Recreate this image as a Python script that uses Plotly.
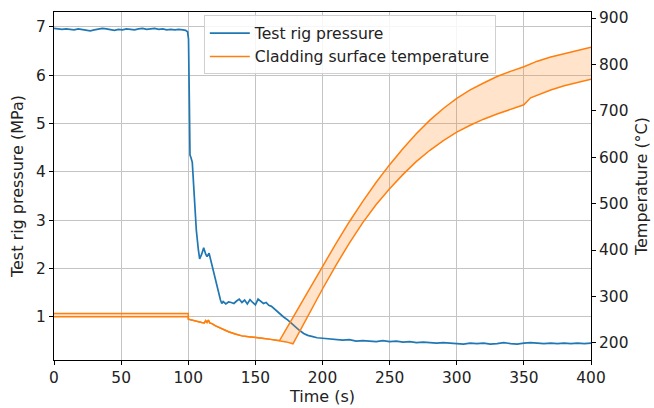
import plotly.graph_objects as go

# Test rig pressure (MPa) versus time (s)
time_p = [0, 3, 6, 9, 12, 15, 18, 21, 24, 27, 30, 33, 36, 39, 42, 45, 48, 51, 54, 57,
          60, 63, 66, 69, 72, 75, 78, 81, 84, 87, 90, 93, 96, 98, 99.5, 100.2, 100.8,
          101.3, 102, 103, 104.5, 106, 107.5, 108.5, 110, 111.5, 113, 114, 115.5, 117,
          118.5, 120, 122, 124, 125, 126, 128, 130, 132, 134, 136, 138, 140, 142, 144,
          146, 148, 150, 152, 154, 156, 158, 160, 162, 165, 168, 171, 174, 177, 180,
          183, 186, 189, 192, 196, 200, 205, 210, 215, 220, 225, 230, 235, 240, 245,
          250, 255, 260, 265, 270, 275, 280, 285, 290, 295, 300, 305, 310, 315, 320,
          325, 330, 335, 340, 345, 350, 355, 360, 365, 370, 375, 380, 385, 390, 395, 400]
pressure = [6.97, 6.96, 6.95, 6.96, 6.95, 6.94, 6.96, 6.95, 6.93, 6.92, 6.94, 6.96, 6.97,
            6.96, 6.94, 6.93, 6.95, 6.94, 6.96, 6.95, 6.94, 6.96, 6.97, 6.95, 6.96, 6.97,
            6.95, 6.96, 6.94, 6.95, 6.94, 6.95, 6.94, 6.93, 6.90, 6.75, 5.50, 4.35, 4.30,
            4.20, 3.50, 2.80, 2.40, 2.20, 2.30, 2.43, 2.30, 2.25, 2.32, 2.15, 1.95, 1.80,
            1.60, 1.35, 1.28, 1.32, 1.27, 1.31, 1.30, 1.28, 1.33, 1.37, 1.30, 1.35, 1.27,
            1.36, 1.30, 1.25, 1.37, 1.33, 1.28, 1.30, 1.24, 1.22, 1.14, 1.08, 1.00, 0.94,
            0.86, 0.79, 0.72, 0.66, 0.62, 0.60, 0.57, 0.56, 0.55, 0.54, 0.52, 0.53, 0.50,
            0.51, 0.50, 0.49, 0.51, 0.49, 0.50, 0.48, 0.49, 0.47, 0.48, 0.47, 0.46, 0.47,
            0.46, 0.45, 0.44, 0.46, 0.45, 0.46, 0.44, 0.45, 0.47, 0.45, 0.44, 0.46, 0.47,
            0.46, 0.45, 0.46, 0.45, 0.46, 0.45, 0.46, 0.45, 0.46]

# Cladding surface temperature (°C): upper and lower bound of the measured band
time_upper = [0, 100, 100.1, 105, 110, 112, 113, 114, 115, 116, 118, 120, 125, 130, 135,
              140, 145, 150, 155, 160, 165, 168, 175, 183, 190, 200, 210, 220, 230, 240,
              250, 260, 270, 280, 290, 300, 310, 320, 330, 340, 350, 360, 370, 380, 390, 400]
temp_upper = [263, 263, 251, 247, 244, 243, 248, 244, 249, 243, 241, 237, 230, 224, 219,
              215, 213, 212, 210, 208, 206, 205, 240, 280, 314, 364, 414, 461, 505, 546,
              584, 619, 651, 680, 705, 727, 745, 760, 774, 785, 795, 807, 816, 823, 830, 837]

time_lower = [0, 100, 100.1, 105, 110, 112, 113, 114, 115, 116, 118, 120, 125, 130, 135,
              140, 145, 150, 155, 160, 165, 168, 173, 178, 185, 190, 200, 210, 220, 230,
              240, 250, 260, 270, 280, 290, 300, 310, 320, 330, 340, 348, 350, 355, 360,
              370, 380, 390, 400]
temp_lower = [256, 256, 251, 247, 244, 243, 248, 244, 249, 243, 241, 237, 230, 224, 219,
              215, 213, 212, 210, 208, 206, 205, 202, 198, 236, 263, 316, 367, 415, 459,
              498, 532, 563, 591, 615, 636, 654, 669, 682, 693, 703, 711, 713, 728, 734,
              745, 754, 761, 768]

x_ticks = [0, 50, 100, 150, 200, 250, 300, 350, 400]
p_ticks = [1, 2, 3, 4, 5, 6, 7]
t_ticks = [200, 300, 400, 500, 600, 700, 800, 900]

BLUE = "#1f77b4"
ORANGE = "#ff7f0e"
FONT = "DejaVu Sans"
TICK_SIZE = 15.4
TITLE_SIZE = 16

fig = go.Figure()
fig.add_trace(go.Scatter(x=time_p, y=pressure, mode="lines", name="Test rig pressure",
                         line=dict(color=BLUE, width=1.7), yaxis="y"))
fig.add_trace(go.Scatter(x=time_upper, y=temp_upper, mode="lines",
                         name="Cladding surface temperature",
                         line=dict(color=ORANGE, width=1.5), yaxis="y2"))
fig.add_trace(go.Scatter(x=time_lower, y=temp_lower, mode="lines", showlegend=False,
                         line=dict(color=ORANGE, width=1.5), fill="tonexty",
                         fillcolor="rgba(255,127,14,0.22)", yaxis="y2"))

axis_common = dict(showline=True, linecolor="black", linewidth=1, ticks="outside",
                   ticklen=4, tickcolor="black", automargin=False,
                   tickfont=dict(size=TICK_SIZE, color="#222"), zeroline=False)

fig.update_layout(
    width=654, height=408,
    margin=dict(l=54, r=63, t=12, b=48),
    paper_bgcolor="white", plot_bgcolor="white",
    font=dict(family=FONT, size=TICK_SIZE, color="#222"),
    xaxis=dict(range=[0, 400], tickvals=x_ticks, mirror=True, showgrid=True,
               gridcolor="#c4c4c4", gridwidth=1,
               title=dict(text="Time (s)", standoff=2, font=dict(size=TITLE_SIZE)),
               **axis_common),
    yaxis=dict(range=[0.11, 7.31], tickvals=p_ticks, showgrid=True,
               gridcolor="#c4c4c4", gridwidth=1,
               title=dict(text="Test rig pressure (MPa)", standoff=8,
                          font=dict(size=TITLE_SIZE)),
               **axis_common),
    yaxis2=dict(range=[163, 913], tickvals=t_ticks, overlaying="y", side="right",
                showgrid=False,
                title=dict(text="Temperature (°C)", standoff=8, font=dict(size=TITLE_SIZE)),
                **axis_common),
    legend=dict(x=0.279, y=0.99, xanchor="left", yanchor="top", traceorder="normal",
                bgcolor="rgba(255,255,255,0.85)", bordercolor="#d0d0d0", borderwidth=1,
                itemwidth=40,
                font=dict(size=15.6, color="#222"), tracegroupgap=0),
    showlegend=True,
)

fig.write_html("out.html")
